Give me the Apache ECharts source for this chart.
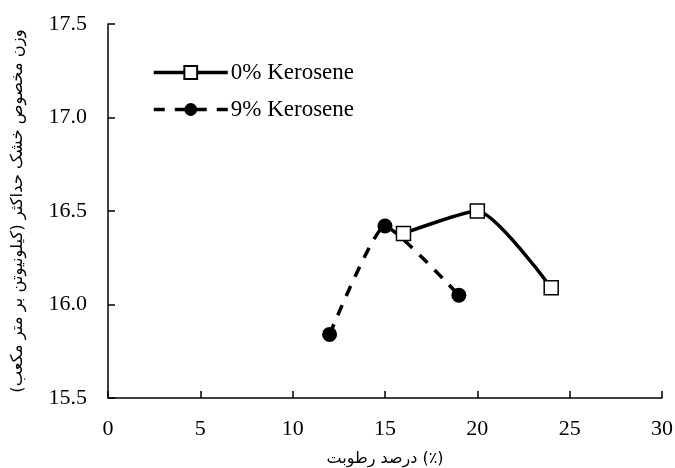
<!DOCTYPE html>
<html>
<head>
<meta charset="utf-8">
<script src="https://cdn.jsdelivr.net/npm/echarts@6/dist/echarts.min.js"></script>
<style>
html,body{margin:0;padding:0;background:#fff;}
#c{width:675px;height:468px;}
</style>
</head>
<body>
<div id="c"></div>
<script>
const seriesNames = ['0% Kerosene', '9% Kerosene'];
const moisture0 = [16, 20, 24];
const density0 = [16.38, 16.5, 16.09];
const moisture9 = [12, 15, 19];
const density9 = [15.84, 16.42, 16.05];
const xTitle = 'درصد رطوبت (٪)';
const yTitle = 'وزن مخصوص خشک حداکثر (کیلونیوتن بر متر مکعب)';

const serif = '"Liberation Serif", "DejaVu Serif", serif';
const sans = '"DejaVu Sans", "Noto Sans", sans-serif';
const chart = echarts.init(document.getElementById('c'));
chart.setOption({
  animation: false,
  backgroundColor: '#fff',
  grid: {left: 108, right: 13, top: 24, bottom: 70, containLabel: false, outerBoundsMode: 'none'},
  legend: {
    left: 147, top: 56, orient: 'vertical',
    itemWidth: 74, itemHeight: 16, itemGap: 14,
    lineStyle: {width: 3.5},
    textStyle: {fontFamily: serif, fontSize: 23, color: '#000', padding: [0,0,0,-2]},
    data: seriesNames
  },
  xAxis: {
    type: 'value', min: 0, max: 30, interval: 5,
    name: xTitle, nameLocation: 'middle', nameGap: 53,
    nameTextStyle: {fontFamily: sans, fontSize: 16, color: '#000'},
    axisLine: {lineStyle: {color: '#000', width: 1.5}},
    axisTick: {inside: true, length: 7, lineStyle: {color: '#000', width: 1.5}},
    axisLabel: {fontFamily: serif, fontSize: 22, color: '#000', margin: 20},
    splitLine: {show: false}
  },
  yAxis: {
    type: 'value', min: 15.5, max: 17.5, interval: 0.5,
    name: yTitle, nameLocation: 'middle', nameGap: 82, nameRotate: 90,
    nameTextStyle: {fontFamily: sans, fontSize: 16.4, color: '#000'},
    axisLine: {show: true, lineStyle: {color: '#000', width: 1.5}},
    axisTick: {show: true, inside: true, length: 7, lineStyle: {color: '#000', width: 1.5}},
    axisLabel: {fontFamily: serif, fontSize: 22, color: '#000', margin: 21,
      formatter: v => v.toFixed(1)},
    splitLine: {show: false}
  },
  series: [
    {
      name: seriesNames[0], type: 'line', smooth: 0.2,
      data: moisture0.map((x, i) => [x, density0[i]]),
      symbol: 'rect', symbolSize: 14,
      itemStyle: {color: '#fff', borderColor: '#000', borderWidth: 1.5},
      lineStyle: {color: '#000', width: 3.5}
    },
    {
      name: seriesNames[1], type: 'line', smooth: 0.15,
      data: moisture9.map((x, i) => [x, density9[i]]),
      symbol: 'circle', symbolSize: 15,
      itemStyle: {color: '#000', borderColor: '#000', borderWidth: 0},
      lineStyle: {color: '#000', width: 3.5, type: [11, 10]}
    }
  ]
});
</script>
</body>
</html>
